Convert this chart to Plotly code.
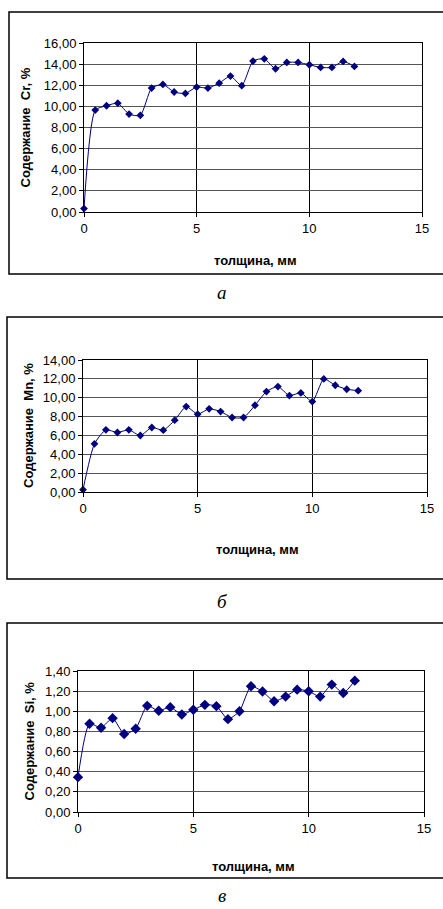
import plotly.graph_objects as go

W, H = 443, 909

x_mm = [0, 0.5, 1, 1.5, 2, 2.5, 3, 3.5, 4, 4.5, 5, 5.5, 6, 6.5, 7, 7.5, 8, 8.5, 9, 9.5, 10, 10.5, 11, 11.5, 12]
cr = [0.32, 9.65, 10.06, 10.30, 9.27, 9.15, 11.73, 12.08, 11.36, 11.23, 11.83, 11.73, 12.20, 12.87, 11.96,
      14.29, 14.50, 13.56, 14.16, 14.16, 13.94, 13.69, 13.69, 14.26, 13.78]
mn = [0.25, 5.11, 6.59, 6.31, 6.59, 5.99, 6.84, 6.56, 7.62, 9.06, 8.25, 8.82, 8.53, 7.90, 7.90,
      9.20, 10.65, 11.18, 10.23, 10.51, 9.59, 11.99, 11.32, 10.90, 10.75]
si = [0.346, 0.876, 0.837, 0.932, 0.774, 0.827, 1.054, 1.005, 1.041, 0.968, 1.015, 1.064, 1.051, 0.922, 1.001,
      1.248, 1.196, 1.100, 1.146, 1.215, 1.199, 1.146, 1.265, 1.182, 1.304]

y_titles = ["Содержание  Cr, %", "Содержание  Mn, %", "Содержание  Si, %"]
x_title = "толщина, мм"
captions = ["а", "б", "в"]
y_ranges = [(0, 16, 2), (0, 14, 2), (0, 1.4, 0.2)]
x_ticks = [0, 5, 10, 15]

# pixel geometry (left, right, top, bottom) of plot areas
plots = [(84, 422, 43, 212), (83, 427, 360, 492), (78, 424, 671, 812)]
boxes = [(9, 446, 12, 274), (7, 446, 317, 579), (7, 446, 623, 878)]
cap_y = [293, 601, 895]
xt_y = [260, 549, 866]
ytitle_x = [25, 28, 29]
marker_sizes = [6, 6, 8]

fig = go.Figure()
series = [cr, mn, si]
for i, ys in enumerate(series):
    n = "" if i == 0 else str(i + 1)
    fig.add_trace(go.Scatter(
        x=x_mm, y=ys, mode="lines+markers", line=dict(color="#000080", width=1, shape="spline", smoothing=0.6),
        marker=dict(symbol="diamond", size=marker_sizes[i], color="#000080"),
        xaxis="x" + n, yaxis="y" + n, showlegend=False, cliponaxis=False))

font_tick = dict(family="Liberation Sans, Arial, sans-serif", size=13, color="#000")
font_title = dict(family="Liberation Sans, Arial, sans-serif", size=13, color="#000", weight="bold")

layout = dict(width=W, height=H, margin=dict(l=0, r=0, t=0, b=0, autoexpand=False), paper_bgcolor="white",
              plot_bgcolor="white", separators=", ", showlegend=False)
shapes = []
annotations = []
for i in range(3):
    n = "" if i == 0 else str(i + 1)
    l, r, t, b = plots[i]
    lo, hi, st = y_ranges[i]
    layout["xaxis" + n] = dict(
        domain=[l / W, r / W], range=[0, 15], tickvals=x_ticks, ticks="outside", ticklen=4,
        tickcolor="#000", showline=True, linecolor="#000", linewidth=1, mirror=True,
        showgrid=True, gridcolor="#000", gridwidth=1, zeroline=False, tickfont=font_tick,
        anchor="y" + n, fixedrange=True, automargin=False)
    layout["yaxis" + n] = dict(
        domain=[1 - b / H, 1 - t / H], range=[lo, hi], dtick=st, tick0=0, tickformat=".2f",
        ticks="outside", ticklen=4, tickcolor="#000", showline=True, linecolor="#000", linewidth=1,
        mirror=True, showgrid=True, gridcolor="#555", gridwidth=1, zeroline=False, tickfont=font_tick,
        anchor="x" + n, fixedrange=True, automargin=False)
    bl, br, bt, bb = boxes[i]
    shapes.append(dict(type="rect", xref="paper", yref="paper", x0=bl / W, x1=br / W,
                       y0=1 - bb / H, y1=1 - bt / H, line=dict(color="#000", width=1.5)))
    annotations.append(dict(text=x_title, xref="paper", yref="paper", x=((l + r) / 2 + 2) / W,
                            y=1 - xt_y[i] / H, showarrow=False, font=font_title,
                            xanchor="center", yanchor="middle"))
    annotations.append(dict(text=y_titles[i], xref="paper", yref="paper", x=ytitle_x[i] / W,
                            y=1 - ((t + b) / 2) / H, showarrow=False, font=font_title, textangle=-90,
                            xanchor="center", yanchor="middle"))
    annotations.append(dict(text="<i>" + captions[i] + "</i>", xref="paper", yref="paper", x=222 / W,
                            y=1 - cap_y[i] / H, showarrow=False,
                            font=dict(family="Liberation Serif, Times New Roman, serif", size=19, color="#000"),
                            xanchor="center", yanchor="middle"))
layout["shapes"] = shapes
layout["annotations"] = annotations
fig.update_layout(**layout)
fig.write_html("out.html", config={"displayModeBar": False},
               post_script="document.body.style.margin='0';document.body.style.padding='0';"
                           "document.documentElement.style.overflow='hidden';document.body.style.overflow='hidden';")
